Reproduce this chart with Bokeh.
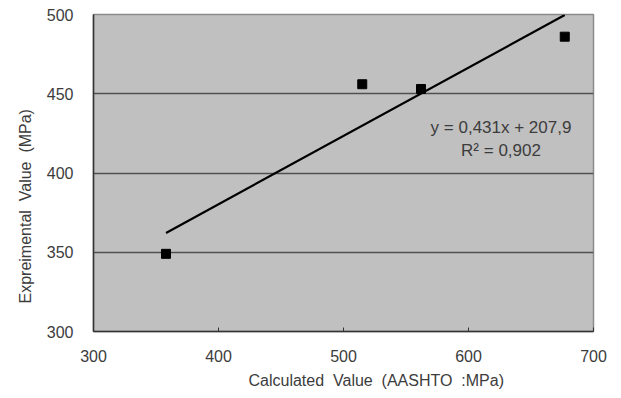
import numpy as np
from bokeh.plotting import figure
from bokeh.models import Label, Title, Range1d, FixedTicker, ColumnDataSource
from bokeh.embed import file_html
from bokeh.resources import INLINE

# measured strengths
calculated = [358, 515, 562, 677]      # AASHTO calculated value (MPa)
experimental = [349, 456, 453, 486]    # experimental value (MPa)

# linear trend reported for the data
slope = 0.431
intercept = 207.9
r_squared = 0.902

x_ticks = [300, 400, 500, 600, 700]
y_ticks = [300, 350, 400, 450, 500]

FONT = "Liberation Sans"
TXT = "#3c3c3c"
GAP = "\u00a0\u00a0"

p = figure(width=621, height=398, output_backend="svg", toolbar_location=None,
           x_range=Range1d(300, 700), y_range=Range1d(300, 500),
           min_border_left=93, min_border_right=28, min_border_top=14,
           min_border_bottom=67)
p.background_fill_color = "#c0c0c0"
p.border_fill_color = "white"
p.outline_line_color = "#8a8a8a"
p.outline_line_width = 1.5

p.xgrid.grid_line_color = None
p.ygrid.grid_line_color = "#505050"
p.ygrid.grid_line_width = 1.5
p.yaxis.ticker = FixedTicker(ticks=y_ticks)
p.xaxis.ticker = FixedTicker(ticks=x_ticks)

for ax in (p.xaxis, p.yaxis):
    ax.axis_line_color = "#333333"
    ax.axis_line_width = 1.5
    ax.major_label_text_font = FONT
    ax.major_label_text_font_size = "16px"
    ax.major_label_text_color = TXT
    ax.minor_tick_line_color = None
p.xaxis.major_tick_in = 4
p.xaxis.major_tick_out = 0
p.xaxis.major_tick_line_color = "#333333"
p.xaxis.major_label_standoff = 18
p.yaxis.major_tick_in = 0
p.yaxis.major_tick_out = 0
p.yaxis.major_tick_line_color = None
p.yaxis.major_label_standoff = 20

# trend line over the data span
xs = np.array([min(calculated), max(calculated)], dtype=float)
p.line(xs, slope * xs + intercept, line_color="black", line_width=2.2)

src = ColumnDataSource(dict(x=calculated, y=experimental))
p.scatter("x", "y", source=src, marker="square", size=9,
          fill_color="black", line_color="black")

eq1 = "y = " + f"{slope:.3f}".replace(".", ",") + "x + " + f"{intercept:.1f}".replace(".", ",")
eq2 = "R² = " + f"{r_squared:.3f}".replace(".", ",")
p.add_layout(Label(x=626, y=428.5, text=eq1, text_align="center", text_baseline="middle",
                   text_font=FONT, text_font_size="17px", text_color=TXT))
p.add_layout(Label(x=626, y=414, text=eq2, text_align="center", text_baseline="middle",
                   text_font=FONT, text_font_size="17px", text_color=TXT))

# axis titles as side-panel titles, shifted along their axes
y_title = Title(text=GAP.join(["Expreimental", "Value", "(MPa)"]), align="left",
                offset=28, text_font=FONT, text_font_size="16px",
                text_font_style="normal", text_color=TXT, standoff=20)
x_title = Title(text=GAP.join(["Calculated", "Value", "(AASHTO", ":MPa)"]), align="left",
                offset=155, text_font=FONT, text_font_size="16px",
                text_font_style="normal", text_color=TXT, standoff=10)
p.add_layout(y_title, "left")
p.add_layout(x_title, "below")

open("out.html", "w").write(file_html(p, INLINE))
